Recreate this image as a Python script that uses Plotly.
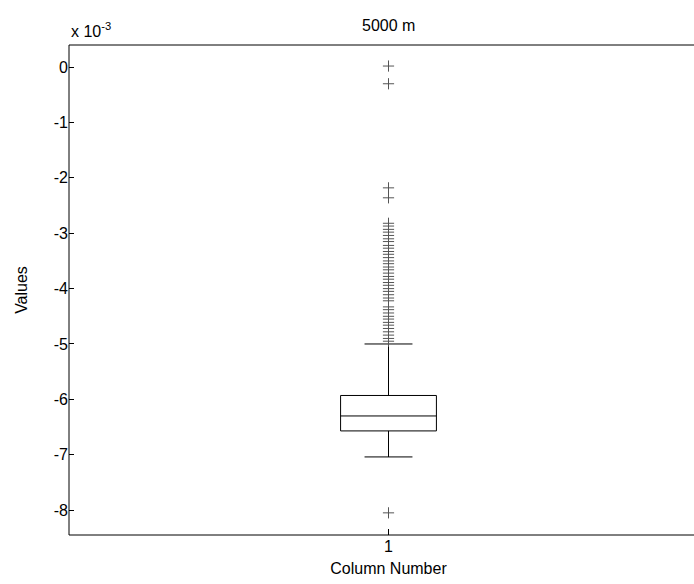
import plotly.graph_objects as go

# values in units of 1e-3
column = [1]
q1 = [-6.57]
median = [-6.30]
q3 = [-5.93]
lower_whisker = [-7.04]
upper_whisker = [-5.00]
outliers = [0.02, -0.30, -2.18, -2.36,
            -2.82, -2.87, -2.93, -2.98, -3.04, -3.10, -3.15, -3.22, -3.27, -3.33,
            -3.38, -3.44, -3.50, -3.55, -3.61, -3.66, -3.72, -3.78, -3.83, -3.89,
            -3.94, -4.00, -4.05, -4.11, -4.17, -4.22,
            -4.33, -4.38, -4.44, -4.50, -4.55, -4.61, -4.66, -4.72, -4.78, -4.84, -4.90, -4.95,
            -8.05]
y_ticks = [0, -1, -2, -3, -4, -5, -6, -7, -8]
title_text = "5000 m"
x_title = "Column Number"
y_title = "Values"

font = "Liberation Sans, Arial, sans-serif"

fig = go.Figure()
fig.add_trace(go.Box(
    x=column, q1=q1, median=median, q3=q3,
    lowerfence=lower_whisker, upperfence=upper_whisker,
    width=0.15, whiskerwidth=0.5,
    line=dict(color="black", width=1), fillcolor="white",
    boxpoints=False, showlegend=False,
))
fig.add_trace(go.Scatter(
    x=[column[0]] * len(outliers), y=outliers, mode="markers",
    marker=dict(symbol="cross-thin-open", size=8, color="#555",
                line=dict(color="#555", width=1)),
    showlegend=False,
))

frame = dict(color="black", width=1)
# The reference is cropped at its right edge: the plot area continues past
# the 694 px window, so the figure is a little wider and the page clips it.
fig.update_layout(
    template="none",
    width=708, height=584,
    margin=dict(l=69, r=0, t=45, b=49),
    paper_bgcolor="white", plot_bgcolor="white",
    font=dict(family=font, size=16, color="black"),
    xaxis=dict(range=[0.5, 1.5], tickvals=column, ticktext=["1"],
               ticks="inside", ticklen=6, tickcolor="black",
               showline=False, showgrid=False, zeroline=False,
               title=dict(text=x_title, standoff=8, font=dict(size=16))),
    yaxis=dict(range=[-8.45, 0.4], tickvals=y_ticks,
               ticktext=[str(v) for v in y_ticks],
               ticks="inside", ticklen=5, tickcolor="black",
               showline=False, showgrid=False, zeroline=False,
               title=dict(text=y_title, standoff=22, font=dict(size=16))),
    shapes=[
        dict(type="line", xref="paper", yref="paper", x0=0, x1=1, y0=1, y1=1, line=frame),
        dict(type="line", xref="paper", yref="paper", x0=0, x1=1, y0=0, y1=0, line=frame),
        dict(type="line", xref="paper", yref="paper", x0=0, x1=0, y0=0, y1=1, line=frame),
    ],
    annotations=[
        dict(text=title_text, x=1, xref="x", y=1, yref="paper",
             yshift=30, showarrow=False, font=dict(size=16)),
        dict(text="x 10<sup>-3</sup>", x=0, xref="paper", y=1, yref="paper",
             xanchor="left", yanchor="bottom", yshift=3, showarrow=False,
             font=dict(size=16)),
    ],
)

fig.write_html(
    "out.html",
    config={"displayModeBar": False},
    post_script="document.documentElement.style.overflow='hidden';"
                "document.body.style.overflow='hidden';"
                "document.body.style.margin='0';",
)
